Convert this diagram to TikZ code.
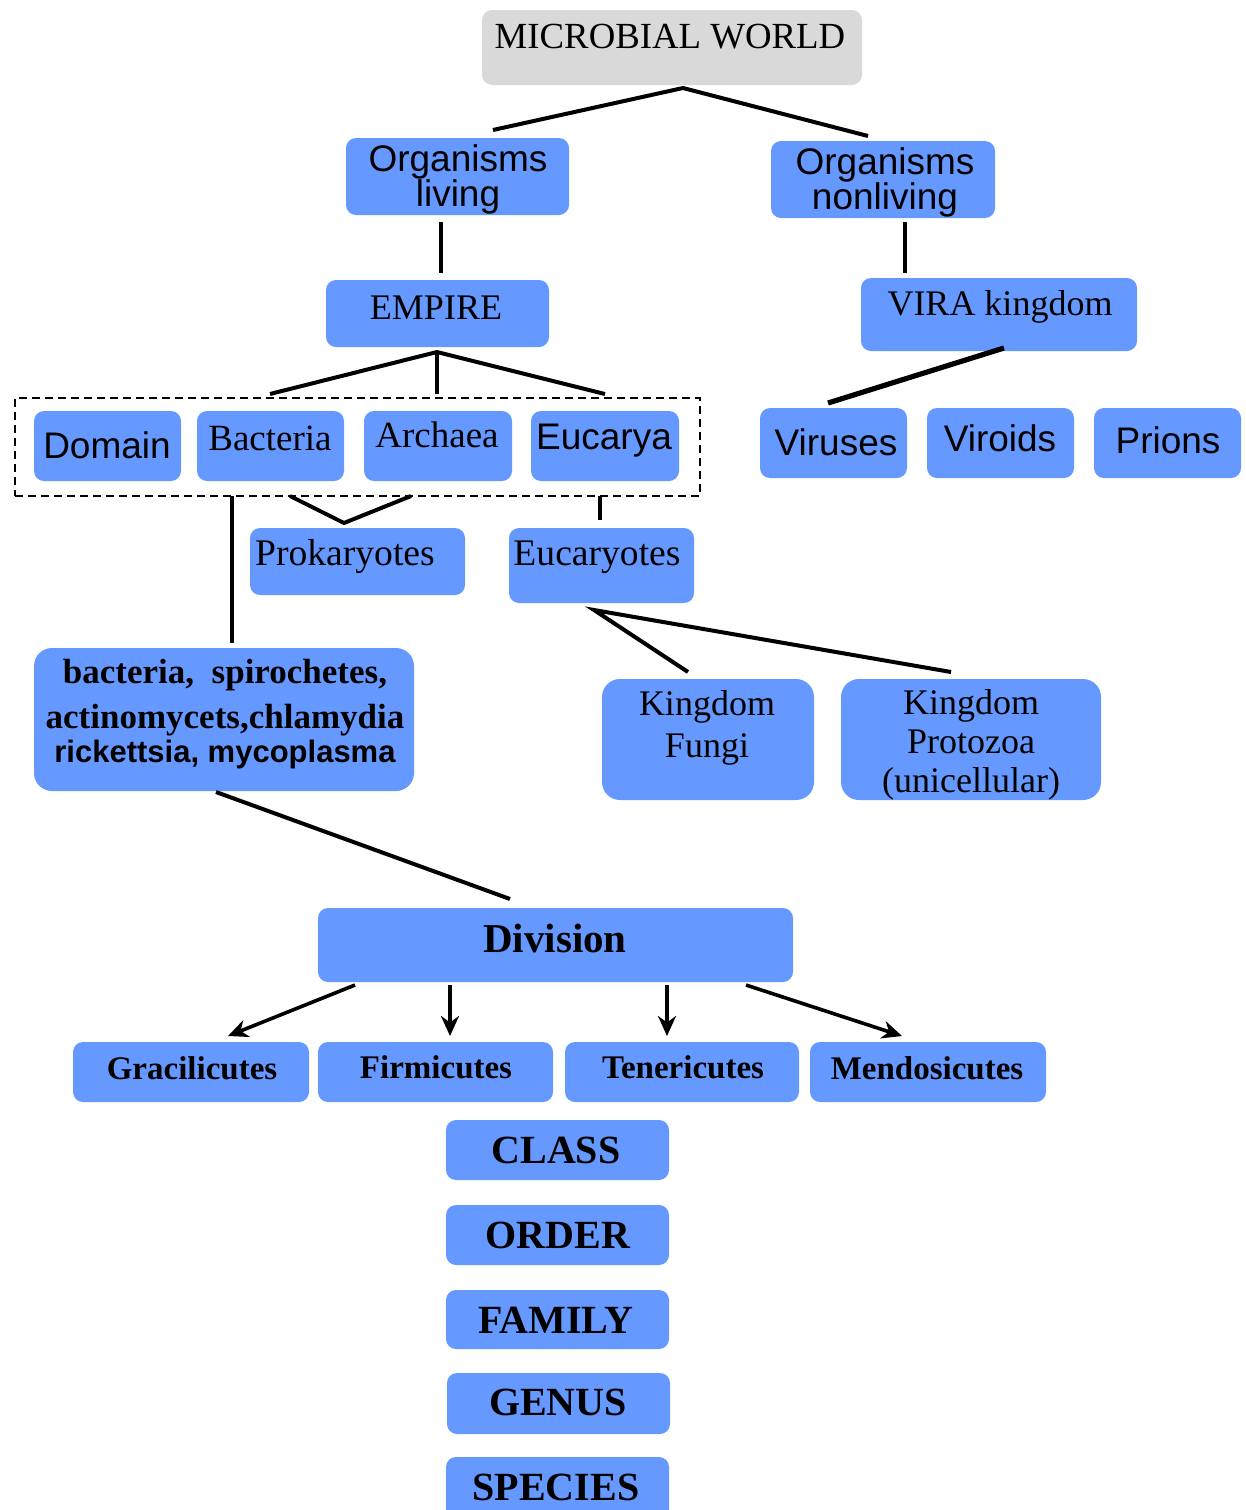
\documentclass[tikz,border=0pt]{standalone}
\usepackage{fontspec}
\setmainfont{Liberation Serif}
\setsansfont{Liberation Sans}
\usetikzlibrary{arrows.meta,calc}
\definecolor{boxblue}{RGB}{102,153,255}
\definecolor{boxgrey}{RGB}{217,217,217}
\tikzset{
  bx/.style 2 args={rectangle, rounded corners=5pt, fill=boxblue, draw=none,
     minimum width={#1*0.5pt}, minimum height={#2*0.5pt}, inner sep=0pt},
  tx/.style={inner sep=0pt, align=center, text=black},
  serif/.style={tx, font=\fontsize{18}{20}\selectfont\rmfamily},
  sans/.style={tx, font=\fontsize{18.5}{17.5}\selectfont\sffamily},
  bserif/.style={tx, font=\fontsize{16.5}{18}\selectfont\rmfamily\bfseries},
  capserif/.style={tx, font=\fontsize{20}{22}\selectfont\rmfamily\bfseries},
  conn/.style={line width=2pt, black},
  arr/.style={line width=1.8pt, black, -{Stealth[length=10pt,width=9pt]}},
}
\begin{document}
\begin{tikzpicture}[x=0.5pt,y=-0.5pt]
\clip (0,0) rectangle (1246,1510);
\fill[white] (0,0) rectangle (1246,1510);

% boxes
\node[bx={380}{75}, fill=boxgrey] (world) at (672,47.5) {};
\node[bx={223}{77}] (living) at (457.5,176.5) {};
\node[bx={224}{77}] (nonliving) at (883,179.5) {};
\node[bx={223}{67}] (empire) at (437.5,313.5) {};
\node[bx={276}{73}] (vira) at (999,314.5) {};
\node[bx={685}{98}, fill=none, draw=black, line width=0.8pt, dash pattern=on 4pt off 2.5pt, rounded corners=0pt] (group) at (357.5,447) {};
\node[bx={147}{70}] (domain) at (107.5,446) {};
\node[bx={147}{70}] (bacteria) at (270.5,446) {};
\node[bx={148}{70}] (archaea) at (438,446) {};
\node[bx={148}{70}] (eucarya) at (605,446) {};
\node[bx={147}{70}] (viruses) at (833.5,443) {};
\node[bx={147}{70}] (viroids) at (1000.5,443) {};
\node[bx={147}{70}] (prions) at (1167.5,443) {};
\node[bx={215}{67}] (prok) at (357.5,561.5) {};
\node[bx={185}{75}] (euk) at (601.5,565.5) {};
\node[bx={380}{143}, rounded corners=9pt] (list) at (224,719.5) {};
\node[bx={212}{121}, rounded corners=9pt] (fungi) at (708,739.5) {};
\node[bx={260}{121}, rounded corners=9pt] (protozoa) at (971,739.5) {};
\node[bx={475}{74}] (division) at (555.5,945) {};
\node[bx={236}{60}] (gracil) at (191,1072) {};
\node[bx={235}{60}] (firmi) at (435.5,1072) {};
\node[bx={234}{60}] (teneri) at (682,1072) {};
\node[bx={236}{60}] (mendo) at (928,1072) {};
\node[bx={223}{60}] (class) at (557.5,1150) {};
\node[bx={223}{60}] (order) at (557.5,1235) {};
\node[bx={223}{59}] (family) at (557.5,1319.5) {};
\node[bx={223}{61}] (genus) at (558.5,1403.5) {};
\node[bx={223}{63}] (species) at (557.5,1488.5) {};

% texts
\node[serif, font=\fontsize{18.4}{20}\selectfont\rmfamily] (tworld) at (670,37) {MICROBIAL WORLD};
\node[sans] (tliving) at (458,179) {Organisms\\living};
\node[sans] (tnonliving) at (885,182) {Organisms\\nonliving};
\node[serif] (tempire) at (436,308) {EMPIRE};
\node[serif] (tvira) at (1000,307) {VIRA kingdom};
\node[sans] (tdomain) at (107,445) {Domain};
\node[serif, font=\fontsize{18.5}{20}\selectfont\rmfamily] (tbacteria) at (270,438) {Bacteria};
\node[serif, font=\fontsize{18.5}{20}\selectfont\rmfamily] (tarchaea) at (437,435) {Archaea};
\node[sans] (teucarya) at (604,441) {Eucarya};
\node[sans] (tviruses) at (836,442) {Viruses};
\node[sans] (tviroids) at (1000,438) {Viroids};
\node[sans] (tprions) at (1168,440) {Prions};
\node[serif, font=\fontsize{18.8}{20}\selectfont\rmfamily] (tprok) at (345,557) {Prokaryotes};
\node[serif, font=\fontsize{18.8}{20}\selectfont\rmfamily] (teuk) at (597,557) {Eucaryotes};
\node[tx, font=\fontsize{17.5}{17}\selectfont\rmfamily\bfseries] (tlist) at (225,714)
  {bacteria,\ \ spirochetes,\\[5.5pt]actinomycets,chlamydia\\{\sffamily\fontsize{15.5}{17}\selectfont rickettsia, mycoplasma}};
\node[tx, font=\fontsize{18}{21}\selectfont\rmfamily] (tfungi) at (707,728) {Kingdom\\Fungi};
\node[tx, font=\fontsize{18}{19.5}\selectfont\rmfamily] (tprotozoa) at (971,745) {Kingdom\\Protozoa\\(unicellular)};
\node[tx, font=\fontsize{20.5}{22}\selectfont\rmfamily\bfseries] (tdivision) at (555,938) {Division};
\node[bserif] (tgracil) at (192,1068) {Gracilicutes};
\node[bserif] (tfirmi) at (436,1067) {Firmicutes};
\node[bserif] (tteneri) at (683,1067) {Tenericutes};
\node[bserif] (tmendo) at (927,1068) {Mendosicutes};
\node[capserif] (tclass) at (556,1150) {CLASS};
\node[capserif] (torder) at (558,1235) {ORDER};
\node[capserif] (tfamily) at (556,1320) {FAMILY};
\node[capserif] (tgenus) at (558,1402) {GENUS};
\node[capserif] (tspecies) at (556,1487) {SPECIES};

% connector points
\coordinate (wtop) at (683,88);
\coordinate (wl) at (493,130);
\coordinate (wr) at (868,136);
\coordinate (la) at (441,222);
\coordinate (lb) at (441,273);
\coordinate (na) at (905,222);
\coordinate (nb) at (905,273);
\coordinate (etop) at (437,352);
\coordinate (e1) at (270,394);
\coordinate (e2) at (437,394);
\coordinate (e3) at (605,394);
\coordinate (va) at (1004,348);
\coordinate (vb) at (828,403);
\coordinate (ba) at (232,496);
\coordinate (bb) at (232,643);
\coordinate (p1) at (290,496);
\coordinate (p2) at (344,523);
\coordinate (p3) at (411,496);
\coordinate (ea) at (600,496);
\coordinate (eb) at (600,520);
\coordinate (ktop) at (594,610);
\coordinate (kf) at (688,672);
\coordinate (kp) at (951,672);
\coordinate (da) at (216,792);
\coordinate (db) at (510,899);
\coordinate (a1s) at (355,985);
\coordinate (a1e) at (228,1036);
\coordinate (a2s) at (450,985);
\coordinate (a2e) at (450,1036);
\coordinate (a3s) at (667,985);
\coordinate (a3e) at (667,1036);
\coordinate (a4s) at (746,985);
\coordinate (a4e) at (902,1036);

% connectors
\draw[conn] (wl) -- (wtop) -- (wr);
\draw[conn] (la) -- (lb);
\draw[conn] (na) -- (nb);
\draw[conn] (e1) -- (etop) -- (e3);
\draw[conn] (etop) -- (e2);
\draw[conn, line width=2.6pt] (va) -- (vb);
\draw[conn] (ba) -- (bb);
\draw[conn] (p1) -- (p2) -- (p3);
\draw[conn] (ea) -- (eb);
\draw[conn] (kf) -- (ktop) -- (kp);
\draw[conn] (da) -- (db);
\draw[arr] (a1s) -- (a1e);
\draw[arr] (a2s) -- (a2e);
\draw[arr] (a3s) -- (a3e);
\draw[arr] (a4s) -- (a4e);
\end{tikzpicture}
\end{document}
